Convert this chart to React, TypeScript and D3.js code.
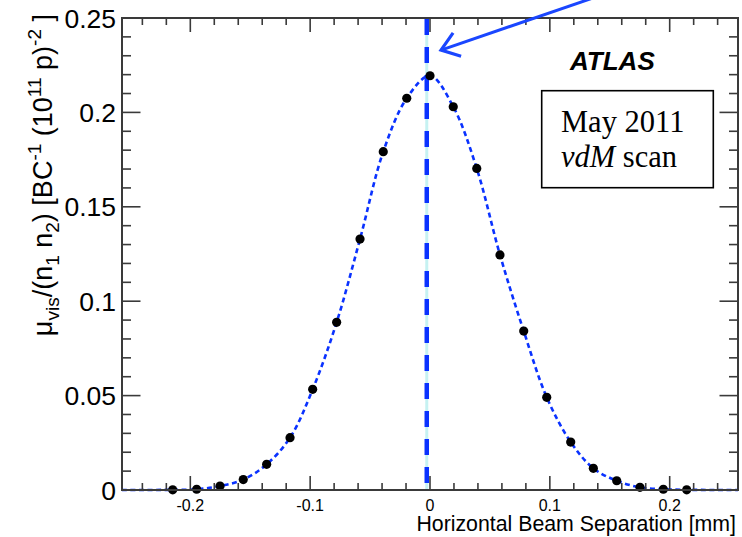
import React from "react";
import * as d3 from "d3";

const separation = [
  -0.2147, -0.1947, -0.1752, -0.1558, -0.1363, -0.1168, -0.0979, -0.0779, -0.0584, -0.039, -0.0194, 0.0,
  0.0194, 0.039, 0.0584, 0.0782, 0.0974, 0.1174, 0.1363, 0.1558, 0.1752, 0.1947, 0.2142,
];
const muVis = [
  0.0001, 0.0004, 0.0021, 0.0055, 0.0136, 0.0277, 0.0533, 0.0888, 0.1329, 0.1792, 0.2075, 0.2194,
  0.203, 0.1703, 0.1245, 0.0842, 0.0491, 0.0254, 0.0115, 0.0049, 0.0014, 0.0004, 0.0001,
];
const xDomain = [-0.257, 0.257];
const yDomain = [0, 0.25];
const xMajorTicks = [-0.2, -0.1, 0, 0.1, 0.2];
const xTickLabels = ["-0.2", "-0.1", "0", "0.1", "0.2"];
const yMajorTicks = [0, 0.05, 0.1, 0.15, 0.2, 0.25];
const yTickLabels = ["0", "0.05", "0.1", "0.15", "0.2", "0.25"];
const peakPosition = -0.0027;
const arrowTip = [0.0092, 0.233];
const arrowTail = [0.192, 0.2728];

const W = 742;
const H = 537;
const L = 122;
const R = 738;
const T = 18;
const B = 490;
const SANS = "'Liberation Sans', Arial, Helvetica, sans-serif";
const SERIF = "'Liberation Serif', 'Times New Roman', serif";
const AXIS = "#3a3a3a";
const BLUE = "#0a32ff";

export default function App() {
  const x = d3.scaleLinear().domain(xDomain).range([L, R]);
  const y = d3.scaleLinear().domain(yDomain).range([B, T]);

  const xMinor = d3.range(-24, 25, 1).map((i) => i * 0.02).filter((v) => v >= xDomain[0] && v <= xDomain[1]);
  const yMinor = d3.range(0, 26, 1).map((i) => i * 0.01);

  const pts: [number, number][] = separation.map((s, i) => [s, muVis[i]]);
  const curvePts: [number, number][] = [[xDomain[0], 0], ...pts, [xDomain[1], 0]];
  const line = d3
    .line<[number, number]>()
    .x((d) => x(d[0]))
    .y((d) => y(d[1]))
    .curve(d3.curveCatmullRom.alpha(0.5));

  const xMajLen = 14;
  const xMinLen = 7;
  const yMajLen = 18.5;
  const yMinLen = 9;
  const isMajX = (v: number) => xMajorTicks.some((m) => Math.abs(m - v) < 1e-6);
  const isMajY = (v: number) => yMajorTicks.some((m) => Math.abs(m - v) < 1e-6);

  const tx = x(arrowTip[0]);
  const ty = y(arrowTip[1]);
  const sx = x(arrowTail[0]);
  const sy = y(arrowTail[1]);
  const ang = Math.atan2(sy - ty, sx - tx);
  const headLen = 21;
  const spread = (36 * Math.PI) / 180;
  const w1 = [tx + headLen * Math.cos(ang - spread), ty + headLen * Math.sin(ang - spread)];
  const w2 = [tx + headLen * Math.cos(ang + spread), ty + headLen * Math.sin(ang + spread)];

  const subFs = 19;
  const mainFs = 27;

  return (
    <svg
      width={W}
      height={H}
      viewBox={`0 0 ${W} ${H}`}
      style={{ position: "absolute", left: 0, top: 0, background: "#fff" }}
    >
      <rect x={0} y={0} width={W} height={H} fill="#fff" />
      <line x1={x(peakPosition)} x2={x(peakPosition)} y1={T} y2={B} stroke="#c6f2f2" strokeWidth={3} />
      <path
        d={line(curvePts) || ""}
        fill="none"
        stroke={BLUE}
        strokeWidth={2.6}
        strokeDasharray="5 3.5"
      />
      <line
        x1={x(peakPosition)}
        x2={x(peakPosition)}
        y1={B}
        y2={T}
        stroke={BLUE}
        strokeWidth={4.5}
        strokeDasharray="16 12"
        strokeDashoffset={21}
      />
      {pts.map((p, i) => (
        <circle key={i} cx={x(p[0])} cy={y(p[1])} r={4.6} fill="#000" />
      ))}

      <rect x={L} y={T} width={R - L} height={B - T} fill="none" stroke={AXIS} strokeWidth={2} />
      {xMinor.map((v, i) => {
        const len = isMajX(v) ? xMajLen : xMinLen;
        return (
          <g key={"xt" + i}>
            <line x1={x(v)} x2={x(v)} y1={B} y2={B - len} stroke={AXIS} strokeWidth={1.6} />
            <line x1={x(v)} x2={x(v)} y1={T} y2={T + len} stroke={AXIS} strokeWidth={1.6} />
          </g>
        );
      })}
      {yMinor.map((v, i) => {
        const len = isMajY(v) ? yMajLen : yMinLen;
        return (
          <g key={"yt" + i}>
            <line x1={L} x2={L + len} y1={y(v)} y2={y(v)} stroke={AXIS} strokeWidth={1.6} />
            <line x1={R} x2={R - len} y1={y(v)} y2={y(v)} stroke={AXIS} strokeWidth={1.6} />
          </g>
        );
      })}
      {xMajorTicks.map((v, i) => (
        <text key={"xl" + i} x={x(v)} y={510.5} fontFamily={SANS} fontSize={16} textAnchor="middle" fill="#000">
          {xTickLabels[i]}
        </text>
      ))}
      {yMajorTicks.map((v, i) => (
        <text
          key={"yl" + i}
          x={116}
          y={y(v) + 9.5}
          fontFamily={SANS}
          fontSize={26.5}
          textAnchor="end"
          fill="#000"
        >
          {yTickLabels[i]}
        </text>
      ))}
      <text x={736} y={531} fontFamily={SANS} fontSize={21.3} textAnchor="end" fill="#000">
        Horizontal Beam Separation [mm]
      </text>
      <text
        transform="translate(52, 14) rotate(-90)"
        fontFamily={SANS}
        fontSize={mainFs}
        textAnchor="end"
        fill="#000"
      >
        <tspan>μ</tspan>
        <tspan fontSize={subFs} dy={7}>vis</tspan>
        <tspan dy={-7}>/(n</tspan>
        <tspan fontSize={subFs} dy={7}>1</tspan>
        <tspan dy={-7}> n</tspan>
        <tspan fontSize={subFs} dy={7}>2</tspan>
        <tspan dy={-7}>) [BC</tspan>
        <tspan fontSize={subFs} dy={-11}>-1</tspan>
        <tspan dy={11}> (10</tspan>
        <tspan fontSize={subFs} dy={-11}>11</tspan>
        <tspan dy={11}> p)</tspan>
        <tspan fontSize={subFs} dy={-11}>-2</tspan>
        <tspan dy={11}> ]</tspan>
      </text>

      <text
        x={570}
        y={70}
        fontFamily={SANS}
        fontSize={26}
        fontWeight="bold"
        fontStyle="italic"
        fill="#000"
      >
        ATLAS
      </text>
      <rect x={541.7} y={90.7} width={171.6} height={97} fill="#fff" stroke="#000" strokeWidth={1.6} />
      <text x={561} y={131.5} fontFamily={SERIF} fontSize={30.5} fill="#000">
        May 2011
      </text>
      <text x={561} y={166.5} fontFamily={SERIF} fontSize={30.5} fill="#000">
        <tspan fontStyle="italic">vdM</tspan>
        <tspan> scan</tspan>
      </text>

      <line x1={sx} y1={sy} x2={tx} y2={ty} stroke="#1a46ff" strokeWidth={3} />
      <polyline
        points={`${w1[0]},${w1[1]} ${tx},${ty} ${w2[0]},${w2[1]}`}
        fill="none"
        stroke="#1a46ff"
        strokeWidth={3.2}
        strokeLinejoin="miter"
      />
    </svg>
  );
}
